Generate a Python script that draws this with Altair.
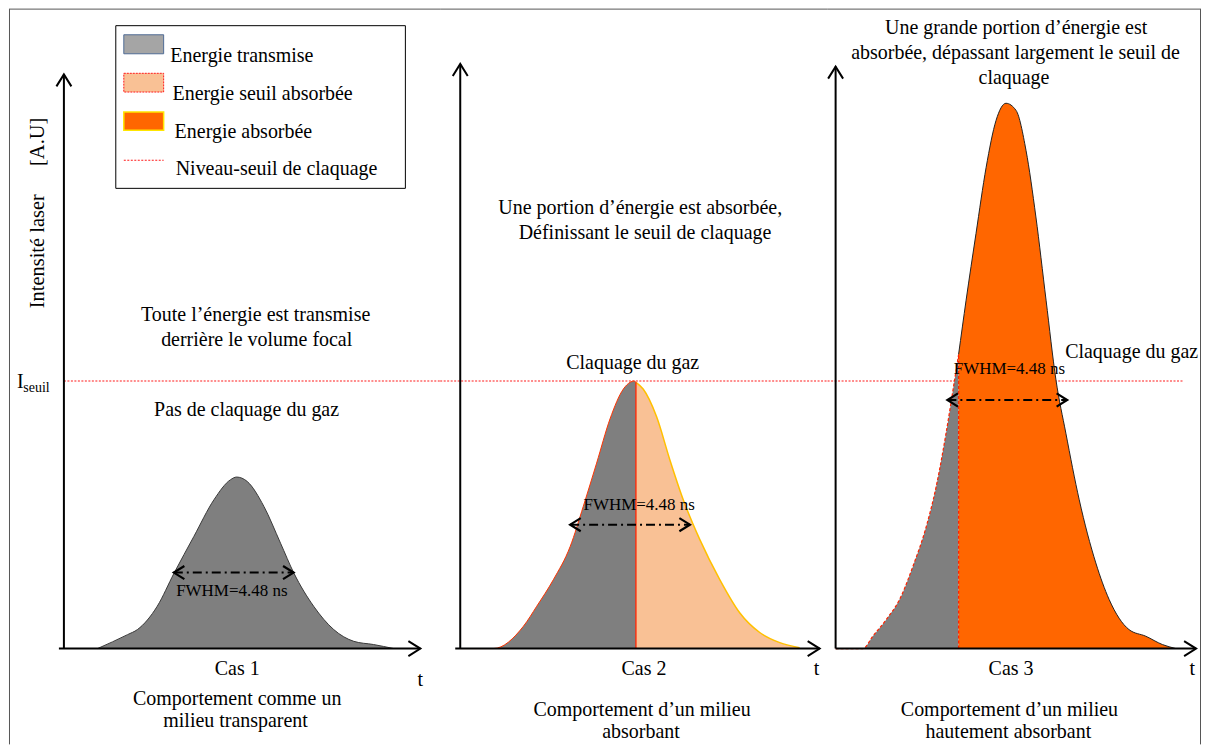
import altair as alt
import pandas as pd

# ---------------- data: time t in ns, intensity in A.U. (I_seuil = 1) ----------------
FWHM_NS = 4.48
I_SEUIL = 1.0

# Cas 1 : pulse below threshold
cas1_t = [1.26, 2.38, 2.75, 3.49, 4.12, 4.86, 5.61, 6.23, 6.46, 6.86, 7.48, 8.10,
          8.60, 9.34, 10.09, 10.84, 11.58, 12.33]
cas1_i = [0.0, 0.052, 0.071, 0.158, 0.282, 0.419, 0.556, 0.631, 0.641, 0.624, 0.531, 0.394,
          0.282, 0.158, 0.071, 0.027, 0.015, 0.0]

# Cas 2 : pulse reaching the threshold
cas2_t = [0.0, 1.24, 2.36, 2.86, 3.48, 4.11, 4.60, 5.10, 5.60, 6.10, 6.35, 6.50, 6.57,
          6.84, 7.34, 7.84, 8.34, 8.96, 9.71, 10.45, 11.20, 11.95, 12.69]
cas2_i = [0.0, 0.0, 0.083, 0.158, 0.257, 0.381, 0.531, 0.693, 0.858, 0.970, 0.995, 1.0, 0.995,
          0.970, 0.867, 0.705, 0.556, 0.407, 0.257, 0.134, 0.060, 0.022, 0.003]
cas2_split = 6.57

# Cas 3 : pulse well above the threshold
cas3_t = [0.0, 1.02, 1.39, 1.89, 2.39, 2.89, 3.39, 3.76, 4.13, 4.44, 4.60, 4.88, 5.25, 5.63,
          6.00, 6.37, 6.75, 7.12, 7.49, 7.87, 8.24, 8.61, 9.11, 9.73, 10.23, 10.97, 11.60,
          12.22, 12.72]
cas3_i = [0.0, 0.0, 0.046, 0.108, 0.183, 0.307, 0.456, 0.605, 0.805, 0.998, 1.10, 1.302,
          1.551, 1.799, 1.974, 2.038, 2.011, 1.862, 1.613, 1.302, 1.004, 0.805, 0.556, 0.320,
          0.183, 0.071, 0.046, 0.015, 0.0]
cas3_split = 4.60

# FWHM arrows (start time, level) per case
fwhm_start = [4.11, 4.11, 4.18]
fwhm_level = [0.284, 0.463, 0.929]
fwhm_label_t = [6.28, 6.69, 6.50]
fwhm_label_i = [0.214, 0.537, 1.045]
fwhm_label = "FWHM=4.48 ns"

# drawn axes (arrows)
yaxis_top = [2.146, 2.185, 2.175]
xaxis_start = [-0.187, -0.187, 0.0]
xaxis_end = [13.33, 13.44, 13.48]
seuil_t0 = [0.0, -0.75, -0.30]
seuil_t1 = [14.08, 13.74, 13.03]

# annotations (panel, text, t, I)
ann_panel = [0, 0, 0, 0, 0, 0, 0,
             1, 1, 1, 1, 1, 1, 1,
             2, 2, 2, 2, 2, 2, 2, 2]
ann_text = ["Toute l’énergie est transmise", "derrière le volume focal",
            "Pas de claquage du gaz", "Cas 1", "Comportement comme un",
            "milieu transparent", "t",
            "Une portion d’énergie est absorbée,", "Définissant le seuil de claquage",
            "Claquage du gaz", "Cas 2", "Comportement d’un milieu", "absorbant", "t",
            "Une grande portion d’énergie est", "absorbée, dépassant largement le seuil de",
            "claquage", "Claquage du gaz", "Cas 3", "Comportement d’un milieu",
            "hautement absorbant", "t"]
ann_t = [7.17, 7.21, 6.83, 6.48, 6.48, 6.42, 13.33,
         6.73, 6.91, 6.45, 6.87, 6.80, 6.76, 13.32,
         6.75, 6.73, 6.67, 11.07, 6.56, 6.50, 6.46, 13.34]
ann_i = [1.246, 1.153, 0.892, -0.075, -0.190, -0.272, -0.119,
         1.646, 1.552, 1.067, -0.075, -0.228, -0.313, -0.075,
         2.321, 2.224, 2.131, 1.107, -0.075, -0.228, -0.313, -0.075]

# y-axis title and threshold label (panel 1)
ytitle_text = ["Intensité laser", "[A.U]"]
ytitle_t = [-0.959, -0.952]
ytitle_i = [1.485, 1.894]

# legend (panel 1)
legend_labels = ["Energie transmise", "Energie seuil absorbée", "Energie absorbée",
                 "Niveau-seuil de claquage"]
legend_label_t = [3.98, 4.06, 4.14, 4.18]
legend_label_i = [2.192, 2.050, 1.907, 1.769]
legend_box = (1.94, 12.77, 1.720, 2.328)
swatch_t = (2.24, 3.73)
swatch_i = [(2.223, 2.294), (2.080, 2.150), (1.937, 2.005)]
legend_line_i = 1.825

# ---------------- layout & style ----------------
PX_PER_NS = 120 / FWHM_NS
PX_PER_AU = 268.0
PANEL_W = [432, 388, 374]
AXIS_OFF = [55, 20, 8]
H = 737
BASE = 641
YDOM = [-(H - BASE) / PX_PER_AU, BASE / PX_PER_AU]
XDOM = [[-o / PX_PER_NS, (w - o) / PX_PER_NS] for w, o in zip(PANEL_W, AXIS_OFF)]

FONT = "Liberation Serif"
GRAY = "#7F7F7F"
LGRAY = "#A5A5A5"
PEACH = "#F9C195"
ORANGE = "#FF6600"
RED = "#FF1A1A"
GOLD = "#FFC000"
CHEVRON = "M -0.5 0.8 L 0 0 L 0.5 0.8"


def X(i, f="t"):
    return alt.X(f"{f}:Q", scale=alt.Scale(domain=XDOM[i], nice=False, zero=False), axis=None)


def Y(f="I"):
    return alt.Y(f"{f}:Q", scale=alt.Scale(domain=YDOM, nice=False, zero=False), axis=None)


def rule(i, rows, **style):
    df = pd.DataFrame(rows, columns=["t", "I", "t2", "I2"])
    return alt.Chart(df).mark_rule(**style).encode(x=X(i), y=Y(), x2="t2:Q", y2="I2:Q")


def heads(i, rows, size, angle, sw=2.0):
    df = pd.DataFrame(rows, columns=["t", "I"])
    return alt.Chart(df).mark_point(shape=CHEVRON, size=size, angle=angle, filled=False,
                                    color="black", strokeWidth=sw, opacity=1).encode(x=X(i), y=Y())


def area(i, pts, fill):
    df = pd.DataFrame(pts, columns=["t", "I"])
    return alt.Chart(df).mark_area(color=fill, interpolate="monotone", opacity=1).encode(
        x=X(i), y=Y(), y2=alt.datum(0))


def outline(i, pts, **style):
    df = pd.DataFrame(pts, columns=["t", "I"])
    return alt.Chart(df).mark_line(interpolate="monotone", **style).encode(x=X(i), y=Y())


def texts(i, rows, **style):
    df = pd.DataFrame(rows, columns=["t", "I", "txt", "size"])
    base = dict(font=FONT, color="black")
    base.update(style)
    return alt.Chart(df).mark_text(**base).encode(
        x=X(i), y=Y(), text="txt:N", size=alt.Size("size:Q", scale=None))


def split(t, I, s):
    left = [(a, b) for a, b in zip(t, I) if a <= s]
    right = [(a, b) for a, b in zip(t, I) if a >= s]
    return left, right


TOP = YDOM[1] - 0.5 / PX_PER_AU
BOT = YDOM[0]
FRAME = dict(color="#555555", strokeWidth=1)


def common(i):
    L = []
    L.append(rule(i, [(XDOM[i][0], TOP, XDOM[i][1], TOP)], **FRAME))
    L.append(rule(i, [(seuil_t0[i], I_SEUIL, seuil_t1[i], I_SEUIL)], color=RED, strokeWidth=1.2,
                  strokeDash=[2, 1.5]))
    return L


def axes_fwhm(i):
    L = []
    L.append(rule(i, [(0, 0, 0, yaxis_top[i]), (xaxis_start[i], 0, xaxis_end[i], 0)],
                  color="black", strokeWidth=2))
    L.append(heads(i, [(0, yaxis_top[i])], 900, 0))
    L.append(heads(i, [(xaxis_end[i], 0)], 900, 90))
    a, b = fwhm_start[i], fwhm_start[i] + FWHM_NS
    L.append(rule(i, [(a, fwhm_level[i], b, fwhm_level[i])], color="black", strokeWidth=2,
                  strokeDash=[9, 4, 2, 4]))
    L.append(heads(i, [(a, fwhm_level[i])], 700, 270, 2.2))
    L.append(heads(i, [(b, fwhm_level[i])], 700, 90, 2.2))
    rows = [(t, v, s, 20) for p, s, t, v in zip(ann_panel, ann_text, ann_t, ann_i) if p == i]
    rows.append((fwhm_label_t[i], fwhm_label_i[i], fwhm_label, 17))
    L.append(texts(i, rows, align="center", baseline="middle"))
    return L


# ---------------- panel 1 ----------------
L1 = common(0)
L1.append(rule(0, [(XDOM[0][0] + 0.5 / PX_PER_NS, BOT, XDOM[0][0] + 0.5 / PX_PER_NS, TOP)], **FRAME))
p1 = [(a, b) for a, b in zip(cas1_t, cas1_i)]
L1.append(area(0, p1, GRAY))
L1.append(outline(0, p1, color="#3A3A3A", strokeWidth=1))
# legend
bx0, bx1, by0, by1 = legend_box
L1.append(alt.Chart(pd.DataFrame([(bx0, by0, bx1, by1)], columns=["t", "I", "t2", "I2"]))
          .mark_rect(fill="white", stroke="black", strokeWidth=1)
          .encode(x=X(0), y=Y(), x2="t2:Q", y2="I2:Q"))
sw_styles = [dict(fill=LGRAY, stroke="#4F6B95", strokeWidth=1),
             dict(fill=PEACH, stroke=RED, strokeWidth=1, strokeDash=[2, 1]),
             dict(fill=ORANGE, stroke="#FFE600", strokeWidth=1.5)]
for (i0, i1), st in zip(swatch_i, sw_styles):
    L1.append(alt.Chart(pd.DataFrame([(swatch_t[0], i0, swatch_t[1], i1)],
                                     columns=["t", "I", "t2", "I2"]))
              .mark_rect(**st).encode(x=X(0), y=Y(), x2="t2:Q", y2="I2:Q"))
L1.append(rule(0, [(swatch_t[0], legend_line_i, swatch_t[1], legend_line_i)], color=RED,
               strokeWidth=1.2, strokeDash=[2, 1.5]))
L1.append(texts(0, [(t, v, s, 20) for s, t, v in zip(legend_labels, legend_label_t, legend_label_i)],
                align="left", baseline="alphabetic"))
# y title & threshold label
L1.append(texts(0, [(t, v, s, 20.5) for s, t, v in zip(ytitle_text, ytitle_t, ytitle_i)],
                align="center", baseline="middle", angle=270))
L1.append(texts(0, [(-1.755, 0.996, "I", 20)], align="left", baseline="middle"))
L1.append(texts(0, [(-1.519, 0.974, "seuil", 14)], align="left", baseline="middle"))
L1 += axes_fwhm(0)

# ---------------- panel 2 ----------------
L2 = common(1)
left2, right2 = split(cas2_t, cas2_i, cas2_split)
L2.append(area(1, left2, GRAY))
L2.append(area(1, right2, PEACH))
L2.append(outline(1, left2, color="#FF3300", strokeWidth=1))
L2.append(outline(1, right2, color=GOLD, strokeWidth=1.5))
L2.append(rule(1, [(cas2_split, 0, cas2_split, left2[-1][1])], color="#FF2200", strokeWidth=1.3))
L2 += axes_fwhm(1)

# ---------------- panel 3 ----------------
L3 = common(2)
L3.append(rule(2, [(XDOM[2][1] - 0.5 / PX_PER_NS, BOT, XDOM[2][1] - 0.5 / PX_PER_NS, TOP)], **FRAME))
left3, right3 = split(cas3_t, cas3_i, cas3_split)
L3.append(area(2, left3, GRAY))
L3.append(area(2, right3, ORANGE))
L3.append(outline(2, left3, color="#FF2200", strokeWidth=1.2, strokeDash=[3, 2]))
L3.append(outline(2, right3, color="#222222", strokeWidth=1))
L3.append(rule(2, [(cas3_split, 0, cas3_split, left3[-1][1])], color="#FF2200", strokeWidth=1.3,
               strokeDash=[3, 2]))
L3 += axes_fwhm(2)

panels = [alt.layer(*L).properties(width=w, height=H) for L, w in zip([L1, L2, L3], PANEL_W)]

chart = alt.hconcat(*panels, spacing=0, bounds="flush").properties(
    padding=0, background="white"
).configure_view(stroke=None)

chart.save("out.html", embed_options={"renderer": "svg", "actions": False})
